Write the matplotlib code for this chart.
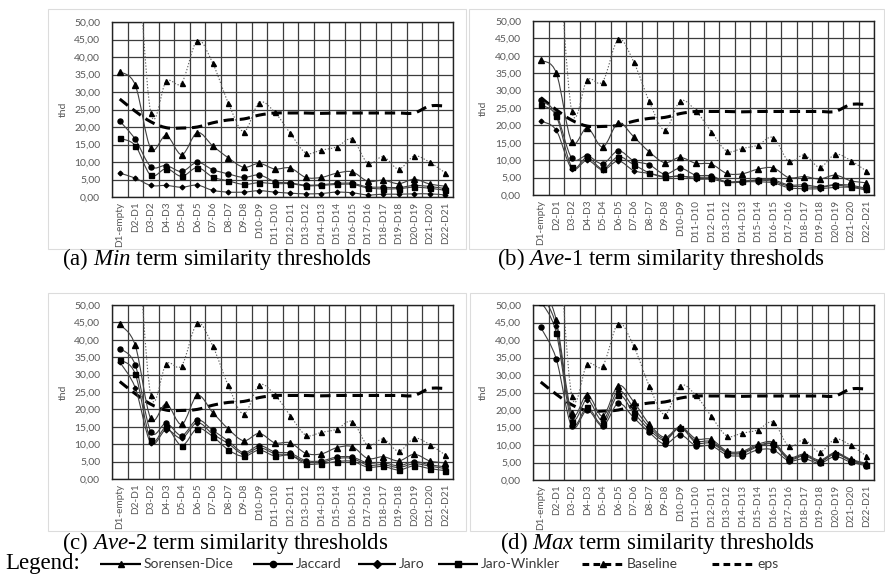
import numpy as np
import matplotlib
matplotlib.use("Agg")
import matplotlib.pyplot as plt
from matplotlib.path import Path
from matplotlib.patches import PathPatch, Rectangle
from matplotlib.ticker import FixedLocator, FuncFormatter

categories = ["D1-empty", "D2-D1", "D3-D2", "D4-D3", "D5-D4", "D6-D5", "D7-D6",
              "D8-D7", "D9-D8", "D10-D9", "D11-D10", "D12-D11", "D13-D12",
              "D14-D13", "D15-D14", "D16-D15", "D17-D16", "D18-D17", "D19-D18",
              "D20-D19", "D21-D20", "D22-D21"]

baseline = [90.0, 76.0, 24.1, 33.1, 32.6, 44.7, 38.2, 26.9, 18.7, 27.0, 24.2,
            18.2, 12.6, 13.4, 14.3, 16.5, 9.7, 11.5, 8.0, 11.7, 9.9, 6.9]
eps = [28.0, 24.5, 21.5, 19.8, 19.7, 20.0, 21.2, 22.0, 22.3, 23.4, 24.0,
       24.0, 24.0, 23.9, 24.0, 24.0, 24.0, 24.0, 24.0, 24.0, 26.0, 26.0]

# (a) Min
min_sd = [35.8, 32.0, 13.9, 17.6, 12.1, 18.4, 14.6, 11.2, 8.5, 9.6, 8.0,
          8.3, 5.6, 5.6, 6.8, 7.2, 4.5, 4.8, 3.8, 5.1, 3.7, 3.1]
min_jac = [21.7, 16.5, 8.7, 9.0, 7.3, 9.9, 7.8, 6.6, 5.6, 6.3, 4.4,
           4.0, 3.4, 3.5, 3.9, 3.9, 2.9, 2.8, 2.7, 3.3, 3.0, 2.4]
min_jaro = [6.8, 5.4, 3.3, 3.3, 2.8, 3.4, 1.9, 1.4, 1.4, 1.8, 1.4,
            1.1, 0.9, 1.0, 1.4, 1.2, 0.6, 0.8, 0.8, 0.9, 0.9, 0.6]
min_jw = [16.8, 14.7, 6.2, 8.1, 5.9, 8.4, 5.7, 4.6, 3.6, 4.1, 3.8,
          3.8, 3.2, 3.3, 3.6, 3.6, 2.6, 2.3, 2.4, 2.8, 2.5, 1.9]

# (b) Ave-1
ave1_sd = [38.7, 35.1, 15.3, 19.3, 13.8, 20.7, 16.7, 12.4, 9.3, 10.8, 9.1,
           8.9, 6.2, 6.1, 7.4, 7.8, 5.0, 5.3, 4.6, 5.7, 4.1, 3.5]
ave1_jac = [27.4, 23.3, 10.6, 11.3, 9.0, 12.7, 9.8, 8.7, 6.0, 7.7, 5.7,
            5.5, 3.7, 3.7, 4.3, 4.3, 2.9, 2.9, 2.4, 3.0, 2.8, 1.9]
ave1_jaro = [21.3, 18.6, 7.6, 10.0, 7.2, 9.8, 7.0, 6.2, 5.1, 5.5, 4.6,
             4.5, 3.7, 3.8, 3.8, 3.5, 2.1, 1.8, 1.8, 2.2, 2.2, 1.4]
ave1_jw = [25.8, 22.7, 8.1, 10.8, 7.5, 11.0, 8.7, 6.4, 5.3, 5.4, 5.1,
           5.0, 3.8, 4.0, 4.3, 3.9, 2.6, 2.4, 2.2, 2.8, 2.4, 1.8]

# (c) Ave-2
ave2_sd = [44.4, 38.4, 17.4, 21.6, 15.7, 24.0, 19.1, 14.4, 11.0, 13.1, 10.4,
           10.4, 7.4, 7.2, 9.0, 9.3, 5.9, 6.4, 5.2, 7.1, 5.2, 4.6]
ave2_jac = [37.5, 32.8, 13.6, 16.0, 12.5, 17.0, 14.0, 10.9, 7.6, 9.6, 7.8,
            7.4, 5.3, 5.2, 6.3, 6.3, 4.6, 4.7, 3.8, 5.0, 4.1, 3.5]
ave2_jaro = [33.6, 26.2, 10.4, 14.2, 11.7, 16.2, 12.9, 10.2, 7.1, 9.0, 7.3,
             6.9, 4.9, 4.8, 5.9, 5.9, 4.0, 4.1, 3.3, 4.4, 3.7, 3.0]
ave2_jw = [34.2, 30.2, 11.2, 14.8, 9.6, 14.5, 12.2, 8.4, 6.5, 8.3, 6.6,
           6.8, 4.4, 4.4, 5.0, 5.1, 3.4, 3.6, 2.6, 3.8, 3.0, 2.4]

# (d) Max
max_sd = [56.5, 45.7, 19.2, 24.4, 18.3, 27.0, 22.3, 16.0, 12.2, 15.2, 11.8,
          11.6, 8.3, 8.2, 10.2, 10.8, 6.5, 7.4, 5.7, 7.8, 5.9, 4.8]
max_jac = [43.6, 34.6, 15.3, 20.0, 15.4, 21.9, 17.8, 13.6, 10.3, 12.9, 9.8,
           9.8, 7.2, 7.0, 8.6, 8.6, 5.5, 6.1, 4.8, 6.7, 5.1, 4.1]
max_jaro = [53.0, 44.0, 18.0, 23.0, 17.0, 25.5, 20.5, 15.2, 11.8, 15.0, 11.2,
            11.0, 8.0, 7.9, 9.8, 10.4, 6.2, 7.1, 5.4, 7.6, 5.7, 4.6]
max_jw = [51.0, 42.1, 16.5, 20.8, 15.9, 24.3, 19.2, 14.4, 11.4, 14.9, 10.7,
          10.5, 7.8, 7.6, 9.5, 10.2, 5.9, 6.9, 5.2, 7.4, 5.5, 4.4]

panel_titles = [r"(a) $\mathit{Min}$ term similarity thresholds",
                r"(b) $\mathit{Ave}$-1 term similarity thresholds",
                r"(c) $\mathit{Ave}$-2 term similarity thresholds",
                r"(d) $\mathit{Max}$ term similarity thresholds"]
y_ticks = [0, 5, 10, 15, 20, 25, 30, 35, 40, 45, 50]

plt.rcParams["mathtext.fontset"] = "custom"
plt.rcParams["mathtext.rm"] = "Liberation Serif"
plt.rcParams["mathtext.it"] = "Liberation Serif:italic"

W, H = 885, 577
fig = plt.figure(figsize=(W / 100, H / 100), dpi=100)
fig.patch.set_facecolor("white")

TICK_FONT = ["Lato", "DejaVu Sans"]
LINE_C = "#404040"
GRID_C = "#3c3c3c"
LABEL_C = "#595959"

# full-figure overlay in pixel units for frames, captions and legend
ov = fig.add_axes([0, 0, 1, 1], zorder=0)
ov.set_xlim(0, W)
ov.set_ylim(H, 0)
ov.axis("off")


def smooth_path(xs, ys):
    """Catmull-Rom spline written as cubic Bezier segments."""
    n = len(xs)
    verts = [(xs[0], ys[0])]
    codes = [Path.MOVETO]
    for i in range(n - 1):
        i0, i3 = max(i - 1, 0), min(i + 2, n - 1)
        p0 = np.array([xs[i0], ys[i0]])
        p1 = np.array([xs[i], ys[i]])
        p2 = np.array([xs[i + 1], ys[i + 1]])
        p3 = np.array([xs[i3], ys[i3]])
        c1 = p1 + (p2 - p0) / 6.0
        c2 = p2 - (p3 - p1) / 6.0
        verts += [tuple(c1), tuple(c2), tuple(p2)]
        codes += [Path.CURVE4] * 3
    return Path(verts, codes)


def draw_series(ax, vals, marker, ms, color=LINE_C, lw=0.8, ls="-", mcolor="black", z=3):
    xs = np.arange(len(vals), dtype=float)
    ys = np.asarray(vals, dtype=float)
    ax.add_patch(PathPatch(smooth_path(xs, ys), fill=False, edgecolor=color,
                           lw=lw, linestyle=ls, zorder=z, capstyle="butt"))
    if marker:
        ax.plot(xs, ys, ls="none", marker=marker, ms=ms, color=mcolor,
                mec=mcolor, zorder=z + 1)


def make_panel(rect, series, ylab_x):
    x0, y0, x1, y1 = rect
    ax = fig.add_axes([x0 / W, 1 - y1 / H, (x1 - x0) / W, (y1 - y0) / H], zorder=2)
    n = len(categories)
    ax.set_xlim(-0.5, n - 0.5)
    ax.set_ylim(0, 50)
    ax.set_xticks(np.arange(n))
    ax.set_xticklabels(categories, rotation=90, family=TICK_FONT,
                       fontsize=7.2, color=LABEL_C)
    ax.xaxis.set_minor_locator(FixedLocator(np.arange(-0.5, n, 1.0)))
    ax.set_yticks(y_ticks)
    ax.yaxis.set_major_formatter(FuncFormatter(lambda v, p: f"{v:.2f}".replace(".", ",")))
    for lab in ax.get_yticklabels():
        lab.set_family(TICK_FONT)
        lab.set_fontsize(7.5)
        lab.set_color(LABEL_C)
    ax.tick_params(which="both", length=0)
    ax.tick_params(axis="y", pad=8.5)
    ax.tick_params(axis="x", pad=3.5)
    ax.grid(True, which="minor", axis="x", color=GRID_C, lw=0.9)
    ax.grid(True, which="major", axis="y", color=GRID_C, lw=0.9)
    ax.set_axisbelow(True)
    for s in ax.spines.values():
        s.set_color("#222222")
        s.set_linewidth(1.0)
    fig.text(ylab_x / W, 1 - ((y0 + y1) / 2) / H, "thd", rotation=90,
             ha="center", va="center", family=TICK_FONT, fontsize=7.5, color=LABEL_C)

    sd, jac, jaro, jw = series
    draw_series(ax, baseline, "^", 3.6, color="#606060", lw=0.8, ls=(0, (1.2, 1.6)), z=3)
    draw_series(ax, eps, None, 0, color="black", lw=2.2, ls=(0, (3.4, 1.9)), z=3)
    draw_series(ax, jaro, "D", 2.4, z=5)
    draw_series(ax, jw, "s", 3.6, z=5)
    draw_series(ax, jac, "o", 3.6, z=5)
    draw_series(ax, sd, "^", 3.8, z=5)
    return ax


rects = [(112, 22, 453, 197), (533, 21, 874, 195),
         (112, 305, 453, 479), (533, 305, 874, 480)]
ylab_xs = [63, 483, 63, 483]
all_series = [(min_sd, min_jac, min_jaro, min_jw),
              (ave1_sd, ave1_jac, ave1_jaro, ave1_jw),
              (ave2_sd, ave2_jac, ave2_jaro, ave2_jw),
              (max_sd, max_jac, max_jaro, max_jw)]
frames = [(48, 9, 466, 249), (469, 9, 884, 249),
          (48, 293, 466, 531), (470, 293, 884, 531)]
title_pos = [(62, 259), (497, 259), (62, 543), (500, 543)]

for rect, ser, yx, fr, title, tp in zip(rects, all_series, ylab_xs, frames,
                                        panel_titles, title_pos):
    ov.add_patch(Rectangle((fr[0], fr[1]), fr[2] - fr[0], fr[3] - fr[1],
                           fill=False, edgecolor="#dcdcdc", lw=0.8))
    make_panel(rect, ser, yx)
    ov.text(tp[0], tp[1], title, ha="left", va="center", fontsize=16.5,
            family="Liberation Serif", color="black")

# legend row
ly = 564
ov.text(5, ly, "Legend:", ha="left", va="center", fontsize=16.5,
        family="Liberation Serif", color="black")
legend_items = [
    ("Sorensen-Dice", "^", 4.5, "-", 1.6, 100, 141),
    ("Jaccard", "o", 4.5, "-", 1.6, 253, 293),
    ("Jaro", "D", 4.0, "-", 1.6, 358, 396),
    ("Jaro-Winkler", "s", 5.0, "-", 1.6, 438, 478),
    ("Baseline", "^", 5.0, (0, (2.2, 1.4)), 2.2, 582, 624),
    ("eps", None, 0, (0, (2.2, 1.4)), 2.2, 712, 754),
]
for label, mk, ms, ls, lw, xa, xb in legend_items:
    ov.plot([xa, xb], [ly, ly], color="black", lw=lw, ls=ls, solid_capstyle="butt")
    if mk:
        ov.plot([(xa + xb) / 2], [ly], marker=mk, ms=ms, color="black", ls="none")
    ov.text(xb + 3, ly + 0.5, label, ha="left", va="center", fontsize=10,
            family=TICK_FONT, color="#3a3a3a")

fig.savefig("out.png", dpi=100, facecolor="white")
